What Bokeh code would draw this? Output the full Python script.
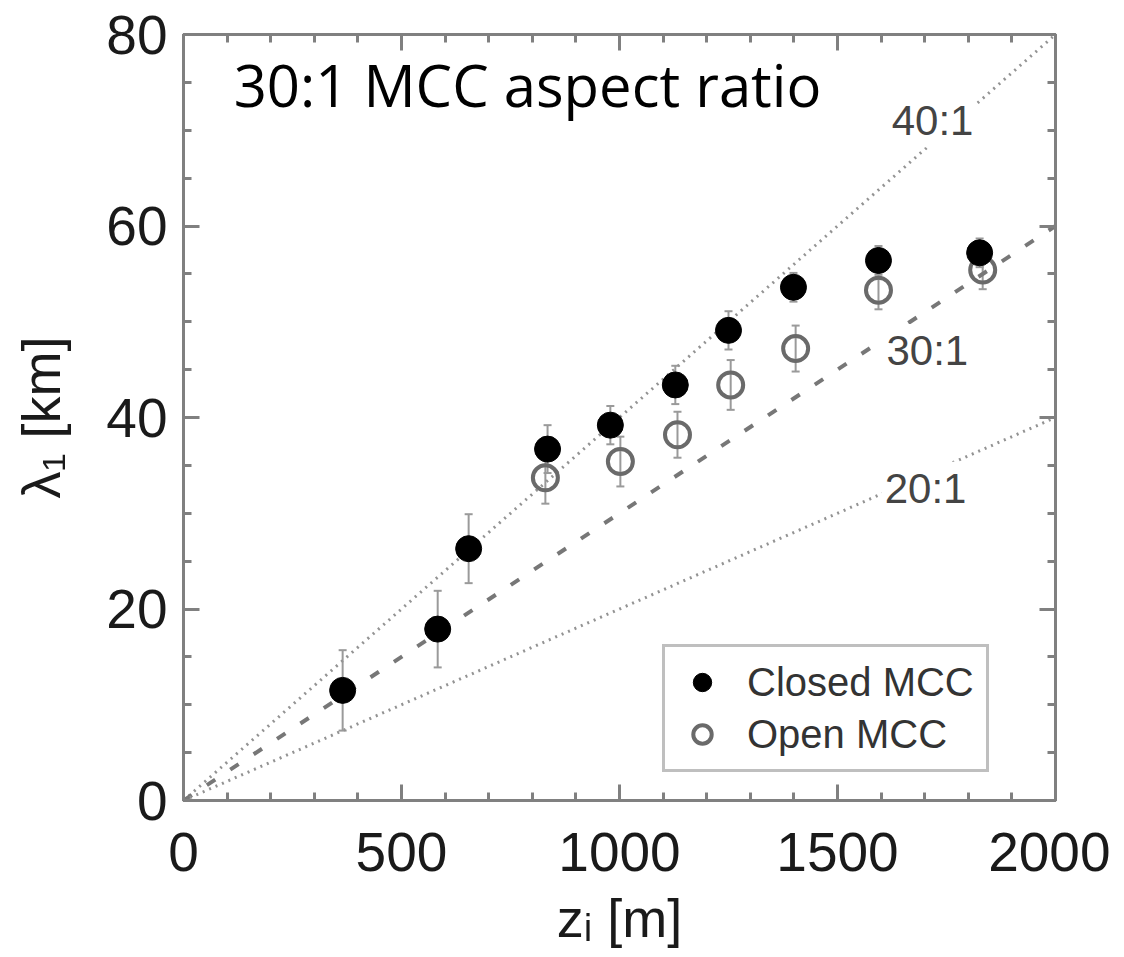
from bokeh.plotting import figure
from bokeh.models import (Range1d, LinearAxis, SingleIntervalTicker, ColumnDataSource,
                          Whisker, TeeHead)
from bokeh.core.properties import value
from bokeh.embed import file_html
from bokeh.resources import INLINE

# ---- data ----
closed_zi = [365, 583, 654, 835, 979, 1128, 1250, 1399, 1594, 1826]
closed_lam = [11.5, 17.9, 26.3, 36.7, 39.2, 43.4, 49.1, 53.6, 56.4, 57.2]
closed_err = [4.2, 4.0, 3.6, 2.5, 2.0, 2.0, 2.0, 1.5, 1.5, 1.5]

open_zi = [830, 1002, 1133, 1255, 1404, 1594, 1833]
open_lam = [33.7, 35.4, 38.2, 43.4, 47.2, 53.3, 55.4]
open_err = [2.7, 2.6, 2.4, 2.6, 2.4, 2.0, 2.0]

ratios = [40, 30, 20]
ratio_labels = ["40:1", "30:1", "20:1"]
ratio_label_x = [1718, 1706, 1702]
ratio_label_y = [71.0, 47.0, 32.6]
zi_span = [0, 2000]

title_text = "30:1 MCC aspect ratio"
title_x = [115]
title_y = [74.8]

FONT = "Liberation Sans"
AX = "#808080"

p = figure(frame_width=872, frame_height=766, min_border_left=183, min_border_right=55,
           min_border_top=34, min_border_bottom=140,
           x_range=Range1d(0, 2000), y_range=Range1d(0, 80),
           output_backend="svg", toolbar_location=None,
           x_axis_label="zᵢ [m]", y_axis_label="λ₁ [km]")
p.grid.visible = False
p.outline_line_color = AX
p.outline_line_width = 3
p.background_fill_color = "white"
p.border_fill_color = "white"

p.xaxis.ticker = SingleIntervalTicker(interval=500, num_minor_ticks=5)
p.yaxis.ticker = SingleIntervalTicker(interval=20, num_minor_ticks=4)


def style_axis(ax, labels=True):
    ax.axis_line_color = AX
    ax.axis_line_width = 3
    ax.major_tick_line_color = AX
    ax.minor_tick_line_color = AX
    ax.major_tick_line_width = 3
    ax.minor_tick_line_width = 3
    ax.major_tick_in = 16
    ax.major_tick_out = 0
    ax.minor_tick_in = 8
    ax.minor_tick_out = 0
    if labels:
        ax.major_label_text_font = FONT
        ax.major_label_text_font_size = "55px"
        ax.major_label_text_color = "#1a1a1a"
        ax.axis_label_text_font = FONT
        ax.axis_label_text_font_size = "54px"
        ax.axis_label_text_font_style = "normal"
        ax.axis_label_text_color = "#1a1a1a"
    else:
        ax.major_label_text_font_size = "1px"
        ax.major_label_text_color = None
        ax.major_label_standoff = 0
        ax.axis_label = None


for ax in p.xaxis + p.yaxis:
    style_axis(ax)
p.yaxis.major_label_orientation = "horizontal"
p.yaxis.major_label_standoff = 16
p.yaxis.axis_label_standoff = 32
p.xaxis.major_label_standoff = 32
p.xaxis.axis_label_standoff = 14

top = LinearAxis(ticker=SingleIntervalTicker(interval=500, num_minor_ticks=5))
right = LinearAxis(ticker=SingleIntervalTicker(interval=20, num_minor_ticks=4))
style_axis(top, labels=False)
style_axis(right, labels=False)
p.add_layout(top, "above")
p.add_layout(right, "right")

# reference aspect-ratio lines
styles = [("#939393", "2 5", 3), ("#777777", "10 18", 4), ("#939393", "2 5", 3)]
for r, (c, d, w) in zip(ratios, styles):
    p.line(zi_span, [r * z / 1000 for z in zi_span], line_color=c, line_dash=d, line_width=w)

p.text(x=ratio_label_x, y=ratio_label_y, text=ratio_labels, text_font=value(FONT),
       text_font_size="42px", text_color="#444444", text_align="center",
       text_baseline="middle", background_fill_color="white", padding=3)

# error bars
cs = ColumnDataSource(dict(x=closed_zi, y=closed_lam,
                           lo=[a - b for a, b in zip(closed_lam, closed_err)],
                           hi=[a + b for a, b in zip(closed_lam, closed_err)]))
os_ = ColumnDataSource(dict(x=open_zi, y=open_lam,
                            lo=[a - b for a, b in zip(open_lam, open_err)],
                            hi=[a + b for a, b in zip(open_lam, open_err)]))
for src in (cs, os_):
    w = Whisker(source=src, base="x", lower="lo", upper="hi", line_color="#9a9a9a",
                line_width=2, level="underlay",
                lower_head=TeeHead(size=8, line_color="#9a9a9a", line_width=2),
                upper_head=TeeHead(size=8, line_color="#9a9a9a", line_width=2))
    p.add_layout(w)

p.scatter(x="x", y="y", source=os_, size=25, fill_color=None, line_color="#6a6a6a",
          line_width=4, legend_label="Open MCC")
p.scatter(x="x", y="y", source=cs, size=26, fill_color="black", line_color="black",
          legend_label="Closed MCC")

p.text(x=title_x, y=title_y, text=[title_text], text_font=value("Open Sans"),
       text_font_size="58px", text_color="black", text_align="left",
       text_baseline="middle")

lg = p.legend[0]
lg.items = list(reversed(lg.items))
lg.location = (479, 28)
lg.label_text_font = FONT
lg.label_text_font_size = "40px"
lg.label_text_color = "#333333"
lg.glyph_width = 50
lg.glyph_height = 46
lg.label_height = 46
lg.spacing = 6
lg.padding = 12
lg.label_standoff = 20
lg.margin = 0
lg.border_line_color = AX
lg.border_line_width = 3
lg.background_fill_alpha = 1

open("out.html", "w").write(file_html(p, INLINE))
